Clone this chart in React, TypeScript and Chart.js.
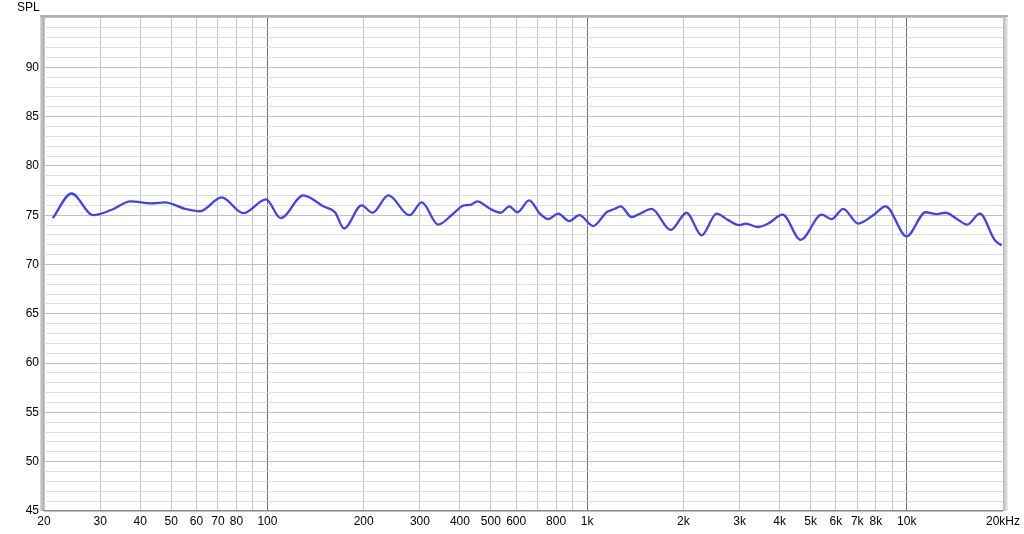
import React, { useEffect, useRef } from "react";
import { Chart, registerables } from "chart.js";

Chart.register(...registerables);

const freqs = [
  21.3, 24.4, 28.5, 32.6, 37.3, 43.5, 47.8, 55.2, 61.5, 71.9, 84.0, 99, 110, 129.5, 149.5, 162.7, 173.6,
  197, 213, 239, 278, 304, 342, 381, 412, 432, 453, 497, 537, 571, 605, 659, 712, 756, 812, 879, 945,
  1045, 1151, 1222, 1273, 1379, 1463, 1592, 1825, 2048, 2282, 2542, 2764, 2991, 3140, 3405, 3686,
  4090, 4656, 5416, 5818, 6326, 7047, 7852, 8590, 9988, 11454, 12398, 13228, 14316, 15454, 16930,
  18866, 19800,
];
const spl = [
  74.7, 77.2, 75.0, 75.55, 76.4, 76.2, 76.3, 75.65, 75.4, 76.8, 75.2, 76.6, 74.7, 77.0, 75.9, 75.3, 73.65,
  76.0, 75.25, 77.0, 75.0, 76.3, 74.05, 75.15, 76.0, 76.05, 76.4, 75.65, 75.25, 75.9, 75.3, 76.5, 75.15, 74.6, 75.15, 74.4, 75.0,
  73.9, 75.3, 75.65, 75.9, 74.8, 75.15, 75.65, 73.5, 75.25, 72.95, 75.15, 74.5, 74.0, 74.15, 73.8, 74.15,
  75.05, 72.5, 75.05, 74.6, 75.65, 74.15, 75.0, 75.9, 72.85, 75.3, 75.1, 75.25, 74.65, 74.05, 75.15,
  72.45, 71.95,
];

const xGridValues = [
  20, 30, 40, 50, 60, 70, 80, 90, 100, 200, 300, 400, 500, 600, 700, 800, 900,
  1000, 2000, 3000, 4000, 5000, 6000, 7000, 8000, 9000, 10000, 20000,
];
const xTickLabels: Record<number, string> = {
  20: "20", 30: "30", 40: "40", 50: "50", 60: "60", 70: "70", 80: "80", 100: "100",
  200: "200", 300: "300", 400: "400", 500: "500", 600: "600", 800: "800", 1000: "1k",
  2000: "2k", 3000: "3k", 4000: "4k", 5000: "5k", 6000: "6k", 7000: "7k", 8000: "8k",
  10000: "10k", 20000: "20kHz",
};
const yLabelValues = [45, 50, 55, 60, 65, 70, 75, 80, 85, 90];
const yMin = 45;
const yMax = 95.1;

const FONT = "'Liberation Sans', Arial, sans-serif";

export default function App() {
  const ref = useRef<HTMLCanvasElement>(null);
  useEffect(() => {
    if (!ref.current) return;
    const framePlugin = {
      id: "frame",
      afterDraw(chart: any) {
        const { ctx, chartArea: a } = chart;
        ctx.save();
        const g = ctx.createLinearGradient(a.left - 5, 0, a.left, 0);
        g.addColorStop(0, "#e6e6e6");
        g.addColorStop(1, "#a8a8a8");
        ctx.fillStyle = g;
        ctx.fillRect(a.left - 4, a.top - 1, 4, a.bottom - a.top + 1);
        const g2 = ctx.createLinearGradient(a.right, 0, a.right + 5, 0);
        g2.addColorStop(0, "#b8b8b8");
        g2.addColorStop(1, "#efefef");
        ctx.fillStyle = g2;
        ctx.fillRect(a.right, a.top - 1, 5, a.bottom - a.top + 1);
        ctx.fillStyle = "#b0b0b0";
        ctx.fillRect(a.left - 4, a.top - 2, a.right - a.left + 9, 2);
        ctx.fillStyle = "#888";
        ctx.fillRect(a.left - 1, a.bottom - 1, a.right - a.left + 1, 1);
        ctx.fillStyle = "#000";
        ctx.font = `12px ${FONT}`;
        ctx.textBaseline = "middle";
        ctx.textAlign = "left";
        ctx.fillText("SPL", 17, 8);
        ctx.restore();
      },
    };
    const chart = new Chart(ref.current, {
      type: "line",
      data: {
        datasets: [
          {
            data: freqs.map((f, i) => ({ x: f, y: spl[i] })),
            borderColor: "#4646d2",
            borderWidth: 2.3,
            pointRadius: 0,
            cubicInterpolationMode: "monotone",
            fill: false,
          },
        ],
      },
      options: {
        animation: false,
        responsive: false,
        maintainAspectRatio: false,
        layout: { padding: { top: 17, right: 21, left: 0, bottom: 0 } },
        plugins: { legend: { display: false }, tooltip: { enabled: false } },
        scales: {
          x: {
            type: "logarithmic",
            min: 20,
            max: 20000,
            afterBuildTicks: (scale: any) => {
              scale.ticks = xGridValues.map((v) => ({ value: v }));
            },
            afterFit: (scale: any) => {
              scale.height = 23;
            },
            ticks: {
              autoSkip: false,
              maxRotation: 0,
              minRotation: 0,
              padding: 3,
              color: "#000",
              font: { family: FONT, size: 12 },
              callback: (v: any) => xTickLabels[Number(v)] ?? "",
            },
            grid: {
              drawTicks: false,
              color: (c: any) => {
                const v = c.tick?.value;
                return v === 100 || v === 1000 || v === 10000 ? "#707070" : "#c4c4c4";
              },
              lineWidth: 1,
            },
            border: { display: false },
          },
          y: {
            min: yMin,
            max: yMax,
            afterBuildTicks: (scale: any) => {
              const t = [];
              for (let v = 45; v <= 95; v++) t.push({ value: v });
              scale.ticks = t;
            },
            afterFit: (scale: any) => {
              scale.width = 44;
            },
            ticks: {
              autoSkip: false,
              padding: 5,
              color: "#000",
              font: { family: FONT, size: 12 },
              callback: (v: any) => (yLabelValues.includes(Number(v)) ? String(v) : ""),
            },
            grid: {
              drawTicks: false,
              color: (c: any) => {
                const v = c.tick?.value;
                return v % 5 === 0 ? "#c0c0c0" : "#dedede";
              },
              lineWidth: 1,
            },
            border: { display: false },
          },
        },
      },
      plugins: [framePlugin],
    } as any);
    return () => chart.destroy();
  }, []);
  return (
    <div style={{ position: "absolute", left: 0, top: 0, width: 1024, height: 534, background: "#fff" }}>
      <canvas ref={ref} width={1024} height={534} style={{ display: "block" }} />
    </div>
  );
}
